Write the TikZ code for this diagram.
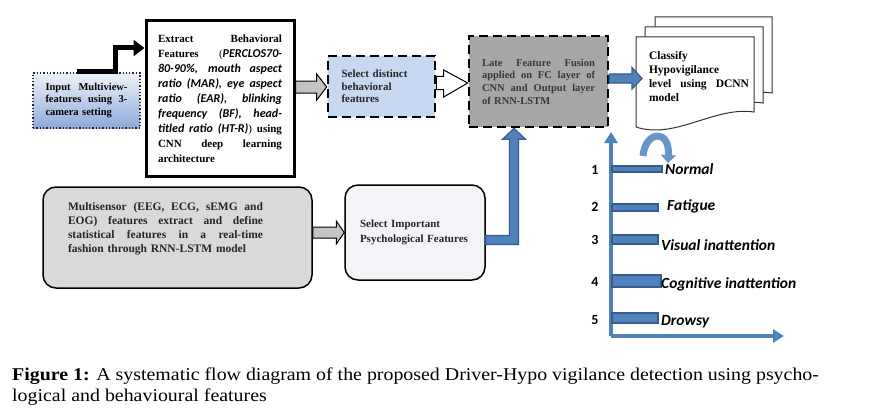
\documentclass[tikz,border=0pt]{standalone}
\usepackage{fontspec}
\setmainfont{Liberation Serif}
\newfontfamily\carl{Carlito}
\usetikzlibrary{arrows.meta,calc}
\definecolor{bfill}{HTML}{4F81BD}
\definecolor{bline}{HTML}{385D8A}
\definecolor{lblue}{HTML}{C6D9F1}
\definecolor{gfill}{HTML}{A6A6A6}
\definecolor{msfill}{HTML}{D9D9D9}
\definecolor{ssfill}{HTML}{F3F4F7}
\definecolor{arrgray}{HTML}{C4C4C4}
\definecolor{inptop}{HTML}{EEF2F8}
\definecolor{inpbot}{HTML}{8EAADB}
\newcommand{\jl}[2]{\leavevmode\hbox to #1{\spaceskip=.22em plus 1fil\relax\xspaceskip=.22em plus 1fil\relax #2}\\}
\newcommand{\ci}{\carl\bfseries\itshape\fontsize{12}{15}\selectfont}
\tikzset{
  dashbox/.style={draw=black, line width=2.6pt, dash pattern=on 9pt off 5pt, inner sep=0pt},
  roundbox/.style={draw=black, line width=1.5pt, rounded corners=13pt, inner sep=0pt},
  grayarrow/.style={draw=black, line width=1pt, fill=arrgray},
  whitearrow/.style={draw=black, line width=1pt, fill=white},
  bluearrow/.style={draw=bline, line width=1.2pt, fill=bfill},
  blackarrow/.style={draw=black, line width=5pt, -{Triangle[length=11pt,width=16pt]}},
  axisarrow/.style={draw=bfill, line width=3.5pt, -{Triangle[length=11pt,width=13pt]}},
  bar/.style={draw=bline, fill=bfill, line width=1.3pt, inner sep=0pt},
  docshape/.style={draw=black!80, line width=1pt, fill=white},
  lvl/.style={anchor=west, inner sep=0pt, font=\carl\bfseries\itshape\fontsize{15.5}{17}\selectfont},
  num/.style={inner sep=0pt, font=\carl\bfseries\fontsize{14}{16}\selectfont},
  capt/.style={anchor=base west, inner sep=0pt, font=\fontsize{18}{21}\selectfont}
}
\begin{document}
\begin{tikzpicture}[x=1pt,y=1pt]
\useasboundingbox (0,0) rectangle (878,-420);
% documents (stack)
\draw[docshape] (655,-17) -- (772,-17) -- (772,-93) .. controls (733,-87) and (693,-121) .. (655,-107) -- cycle;
\draw[docshape] (645,-27) -- (763,-27) -- (763,-103) .. controls (724,-97) and (684,-131) .. (645,-117) -- cycle;
\draw[docshape] (636,-37) -- (754,-37) -- (754,-112) .. controls (715,-106) and (675,-140) .. (636,-127) -- cycle;
\node[text width=100, align=left, inner sep=0pt, font=\bfseries\fontsize{11.5}{14}\selectfont] (cls) at (699,-77)
  {Classify\\Hypovigilance\\\jl{100pt}{level using DCNN}model};
% input box
\node[draw=black!85, dotted, line width=1.3pt, top color=inptop, bottom color=inpbot,
      minimum width=107, minimum height=55, text width=82, align=left, inner sep=0pt,
      font=\bfseries\fontsize{10.5}{12.5}\selectfont] (inp) at (86.5,-100.5)
  {\jl{82pt}{Input Multiview-}\jl{82pt}{features using 3-}camera setting};
% extract box
\node[draw=black, line width=3pt, minimum width=148, minimum height=155, text width=124,
      align=left, inner sep=0pt, font=\fontsize{11}{15}\selectfont] (ext) at (220,-98.5)
  {\jl{124pt}{\textbf{Extract} \textbf{Behavioral}}%
   \jl{124pt}{\textbf{Features} (\ci PERCLOS70-}%
   \jl{124pt}{\ci 80-90\%, mouth aspect}%
   \jl{124pt}{\ci ratio (MAR), eye aspect}%
   \jl{124pt}{\ci ratio (EAR), blinking}%
   \jl{124pt}{\ci frequency (BF), head-}%
   \jl{124pt}{{\ci titled ratio (HT-R)}) \textbf{using}}%
   \jl{124pt}{\textbf{CNN} \textbf{deep} \textbf{learning}}%
   \textbf{architecture}};
% select distinct
\node[dashbox, fill=lblue, minimum width=107, minimum height=61, text width=80, align=left,
      font=\bfseries\fontsize{11}{12.5}\selectfont, text=black!85] (sel) at (381.5,-86.5)
  {Select distinct\\behavioral\\features};
% fusion
\node[dashbox, fill=gfill, minimum width=139, minimum height=91, text width=113, align=left,
      font=\bfseries\fontsize{10.5}{12.7}\selectfont, text=black!78] (fus) at (538.5,-81.5)
  {\jl{113pt}{Late Feature Fusion}\jl{113pt}{applied on FC layer of}\jl{113pt}{CNN and Output layer}of RNN-LSTM};
% multisensor
\node[roundbox, fill=msfill, minimum width=269, minimum height=101] (ms) at (177.5,-237.5) {};
\node[text width=195, align=left, inner sep=0pt, font=\bfseries\fontsize{11.5}{14}\selectfont, text=black!85] (mst) at (165.5,-229)
  {\jl{195pt}{Multisensor (EEG, ECG, sEMG and}\jl{195pt}{EOG) features extract and define}\jl{195pt}{statistical features in a real-time}fashion through RNN-LSTM model};
% select important
\node[roundbox, fill=ssfill, minimum width=140, minimum height=95, text width=110, align=left,
      font=\bfseries\fontsize{11}{15}\selectfont, text=black!85] (ss) at (415,-232.5)
  {Select Important\\Psychological Features};
% connectors
\draw[blackarrow] ([xshift=-10pt,yshift=1pt]inp.north) -- ++(39,0) |- ([yshift=50.5pt]ext.west);
\draw[grayarrow] let \p1=(ext.east), \p2=(sel.west) in
  (\x1,-81) -- (\x2-10pt,-81) -- (\x2-10pt,-74) -- (\x2,-87) -- (\x2-10pt,-100) -- (\x2-10pt,-93) -- (\x1,-93) -- cycle;
\draw[whitearrow] let \p1=(sel.east), \p2=(fus.west) in
  (\x1,-76.5) -- (\x2-24pt,-76.5) -- (\x2-24pt,-70) -- (\x2,-83) -- (\x2-24pt,-97) -- (\x2-24pt,-89.5) -- (\x1,-89.5) -- cycle;
\coordinate (clsin) at (642,-78);
\draw[bluearrow] let \p1=(fus.east), \p2=(clsin) in
  (\x1,-74) -- (\x2-10pt,-74) -- (\x2-10pt,-67.5) -- (\x2,-78.5) -- (\x2-10pt,-89) -- (\x2-10pt,-83) -- (\x1,-83) -- cycle;
\draw[grayarrow] let \p1=(ms.east), \p2=(ss.west) in
  (\x1,-227) -- (\x2-8pt,-227) -- (\x2-8pt,-221) -- (\x2,-232.5) -- (\x2-8pt,-244) -- (\x2-8pt,-238) -- (\x1,-238) -- cycle;
\draw[bluearrow] let \p1=(ss.east), \p2=(fus.south) in
  (\x1,\y1-3pt) -- (\x2-29pt,\y1-3pt) -- (\x2-29pt,\y2-11pt) -- (\x2-36pt,\y2-11pt) -- (\x2-24.5pt,\y2) -- (\x2-13pt,\y2-11pt) -- (\x2-20pt,\y2-11pt) -- (\x2-20pt,\y1-12pt) -- (\x1,\y1-12pt) -- cycle;
% curved arrow
\coordinate (cstart) at (643,-156);
\coordinate (cend) at (668,-163);
\draw[draw=bfill!85, line width=7pt, -{Triangle[length=8pt,width=15pt]}] (cstart) .. controls (645,-131) and (670,-128) .. (cend);
% axes
\coordinate (O) at (611,-336);
\coordinate (ytip) at (611,-132);
\coordinate (xtip) at (784,-336);
\draw[axisarrow] (O) -- (ytip);
\draw[axisarrow] (O) -- (xtip);
% bars
\node[bar, minimum width=50, minimum height=6] (b1) at (637,-169) {};
\node[bar, minimum width=46, minimum height=7] (b2) at (635,-207.5) {};
\node[bar, minimum width=46, minimum height=9] (b3) at (635,-239.5) {};
\node[bar, minimum width=49, minimum height=12] (b4) at (636.5,-281) {};
\node[bar, minimum width=46, minimum height=10] (b5) at (635,-318) {};
\node[num] (n1) at (595,-170) {1};
\node[num] (n2) at (595,-207) {2};
\node[num] (n3) at (595,-240) {3};
\node[num] (n4) at (595,-282) {4};
\node[num] (n5) at (595,-320) {5};
\node[lvl] (l1) at (665,-169) {Normal};
\node[lvl] (l2) at (667,-206) {Fatigue};
\node[lvl] (l3) at (661,-245) {Visual inattention};
\node[lvl] (l4) at (661,-284) {Cognitive inattention};
\node[lvl] (l5) at (661,-322) {Drowsy};
% caption
\node[capt] (cap1) at (12,-380)
  {\scalebox{1.105}[1]{\textbf{Figure 1:} A systematic flow diagram of the proposed Driver-Hypo vigilance detection using psycho-}};
\node[capt] (cap2) at (12,-401)
  {\scalebox{1.105}[1]{logical and behavioural features}};
\end{tikzpicture}
\end{document}
